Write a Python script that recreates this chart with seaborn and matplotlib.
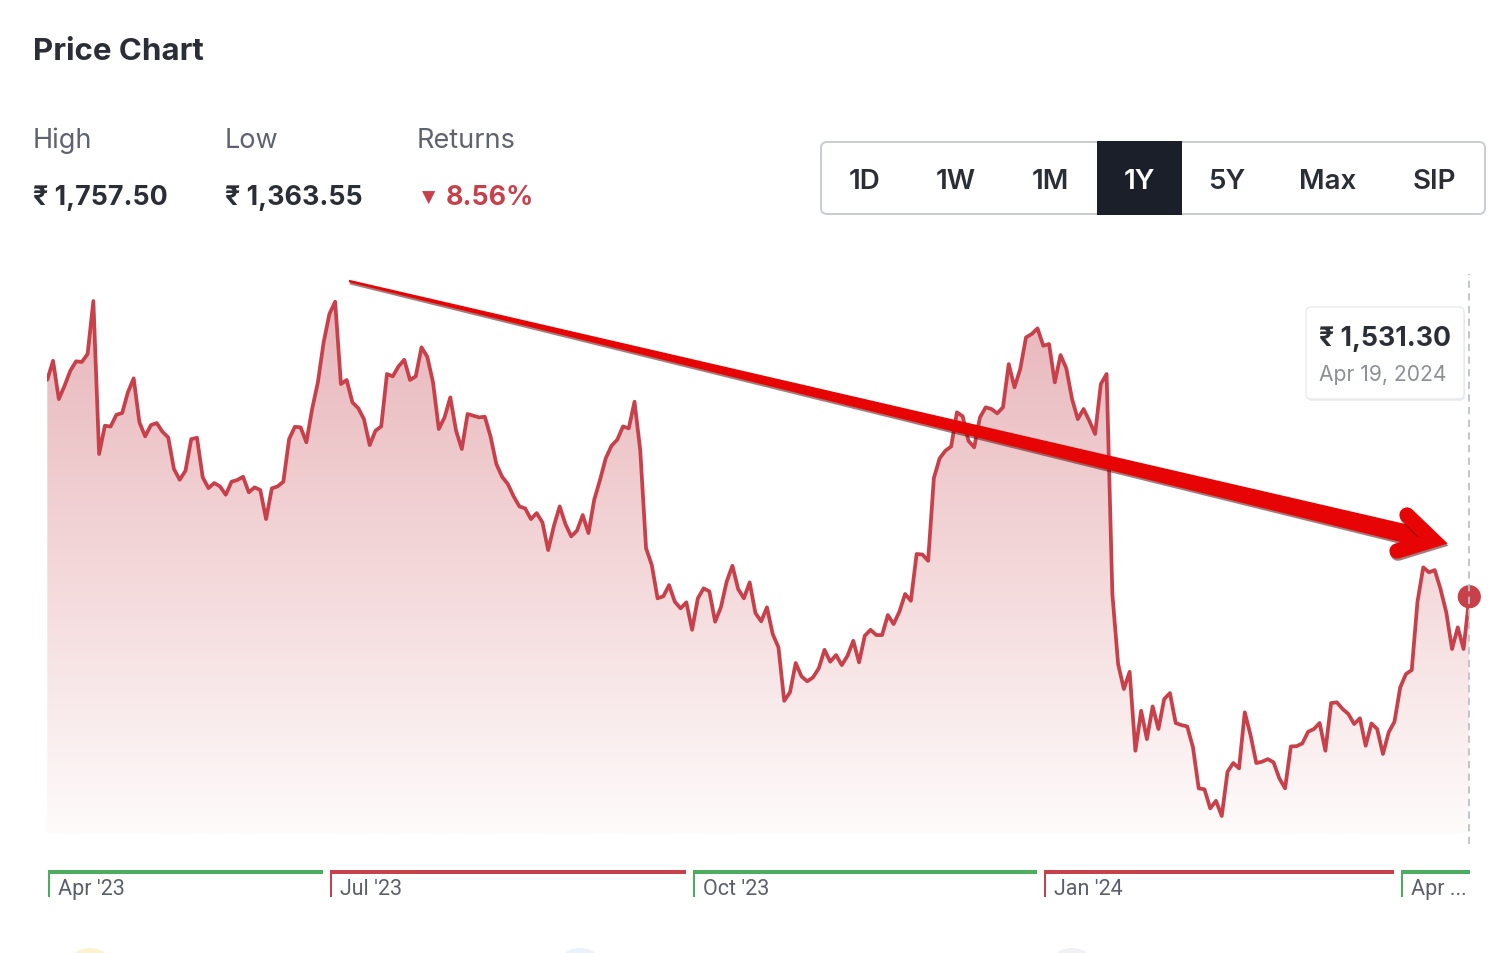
import numpy as np
import pandas as pd
import seaborn as sns
import matplotlib.pyplot as plt
from matplotlib.patches import FancyBboxPatch, Polygon, Rectangle, Circle
from matplotlib.colors import LinearSegmentedColormap

# daily closing prices, Apr 19 2023 .. Apr 19 2024
prices = [
    1697.3, 1711.8, 1682.5, 1692.7, 1704.2, 1711.4, 1710.9, 1717.0, 1757.5, 1640.5,
    1662.1, 1661.5, 1670.5, 1671.8, 1687.7, 1698.4, 1664.7, 1654.0, 1662.6, 1664.2,
    1657.5, 1653.2, 1629.0, 1620.8, 1627.7, 1651.9, 1652.9, 1622.6, 1614.4, 1618.3,
    1615.7, 1609.3, 1619.3, 1620.6, 1623.1, 1611.2, 1615.0, 1612.9, 1590.7, 1614.2,
    1615.7, 1619.3, 1651.9, 1661.3, 1660.9, 1649.4, 1674.9, 1695.3, 1725.9, 1747.6,
    1757.0, 1694.0, 1697.1, 1680.0, 1675.6, 1667.2, 1647.3, 1658.3, 1661.6, 1701.7,
    1699.9, 1707.5, 1712.6, 1697.1, 1699.9, 1722.1, 1714.9, 1695.3, 1659.6, 1668.5,
    1683.8, 1658.3, 1644.3, 1671.1, 1669.8, 1668.5, 1669.0, 1653.7, 1632.8, 1623.1,
    1617.5, 1608.1, 1600.4, 1598.9, 1590.7, 1595.3, 1588.2, 1567.0, 1585.6, 1600.4,
    1586.9, 1577.5, 1581.8, 1593.8, 1580.0, 1605.5, 1620.6, 1637.2, 1646.8, 1651.4,
    1661.6, 1660.1, 1680.5, 1643.0, 1568.5, 1555.5, 1530.1, 1531.6, 1540.2, 1527.5,
    1522.4, 1527.0, 1506.0, 1530.1, 1537.7, 1535.4, 1512.2, 1523.2, 1542.8, 1555.0,
    1537.2, 1530.1, 1542.3, 1518.8, 1512.5, 1523.2, 1502.8, 1492.6, 1451.7, 1458.2,
    1480.6, 1470.4, 1466.6, 1469.6, 1476.5, 1490.7, 1481.6, 1486.7, 1479.0, 1486.2,
    1497.6, 1481.1, 1501.5, 1506.0, 1502.0, 1502.0, 1517.3, 1510.4, 1519.8, 1533.4,
    1528.2, 1564.0, 1563.6, 1558.8, 1622.2, 1637.2, 1643.0, 1646.3, 1672.4, 1669.3,
    1650.6, 1645.6, 1668.5, 1676.2, 1674.9, 1671.6, 1676.2, 1709.3, 1691.5, 1705.5,
    1729.7, 1732.3, 1736.6, 1723.3, 1724.6, 1695.3, 1716.2, 1706.0, 1682.5, 1667.2,
    1674.9, 1665.9, 1655.8, 1694.0, 1701.7, 1533.4, 1479.8, 1460.7, 1473.9, 1413.5,
    1444.1, 1422.4, 1447.4, 1430.1, 1453.0, 1457.6, 1434.7, 1433.1, 1432.1, 1416.1,
    1384.7, 1384.0, 1369.4, 1375.2, 1363.55, 1397.4, 1404.1, 1400.0, 1442.9, 1425.5,
    1404.1, 1405.1, 1407.1, 1404.6, 1392.4, 1384.7, 1416.8, 1417.0, 1419.1, 1428.0,
    1430.1, 1434.7, 1413.5, 1450.0, 1450.5, 1445.4, 1441.6, 1433.9, 1438.3, 1417.3,
    1434.4, 1430.1, 1411.0, 1427.6, 1435.7, 1462.0, 1472.2, 1475.2, 1527.5, 1553.8,
    1550.0, 1551.7, 1537.2, 1519.4, 1491.3, 1507.9, 1491.3, 1531.3,
]

# quarter bands under the chart: label, first trading day index, up/down quarter
quarter_labels = ["Apr '23", "Jul '23", "Oct '23", "Jan '24", "Apr ..."]
quarter_starts = [0, 49, 112, 173, 235]
quarter_up = [True, False, True, False, True]

header_labels = ["High", "Low", "Returns"]
high_value = "₹ 1,757.50"
low_value = "₹ 1,363.55"
returns_value = "8.56%"
range_buttons = ["1D", "1W", "1M", "1Y", "5Y", "Max", "SIP"]
selected_range = "1Y"
tooltip_price = "₹ 1,531.30"
tooltip_date = "Apr 19, 2024"

RED = "#c8404a"
GREEN = "#4cad5f"
DARK = "#2a2f37"
GREY = "#5d6470"

W, H = 1502, 954
sns.set_theme(style="white")
plt.rcParams['font.family'] = ['Inter', 'DejaVu Sans']

fig = plt.figure(figsize=(W / 100, H / 100), dpi=100)


def px_axes(x0, y0, x1, y1):
    """Axes placed by pixel box (y measured from the top)."""
    return fig.add_axes([x0 / W, 1 - y1 / H, (x1 - x0) / W, (y1 - y0) / H])


df = pd.DataFrame({"day": np.arange(len(prices)), "price": prices})
n = len(df)

# price panel
ax = px_axes(47.3, 275, 1469.3, 835)
ymin, ymax = 1349.8, 1778.2
ax.set_xlim(0, n - 1)
ax.set_ylim(ymin, ymax)
ax.axis("off")

# gradient area fill clipped to the price curve
cmap = LinearSegmentedColormap.from_list("fade", ["#fefbfb", "#f3d6d8", "#e6b3b8"])
grad = np.linspace(0, 1, 256).reshape(-1, 1)
im = ax.imshow(grad, extent=[0, n - 1, ymin, ymax], origin="lower",
               aspect="auto", cmap=cmap, zorder=1)
verts = [(0, ymin)] + list(zip(df["day"], df["price"])) + [(n - 1, ymin)]
area = Polygon(verts, closed=True, facecolor="none", edgecolor="none")
ax.add_patch(area)
im.set_clip_path(area)

sns.lineplot(data=df, x="day", y="price", color=RED, linewidth=2.7, ax=ax, zorder=3)
ax.scatter([n - 1], [prices[-1]], s=280, color=RED, clip_on=False, zorder=5,
           edgecolor="none")
ax.axvline(n - 1, ymin=-0.018, ymax=1.0, color="#bcc1c8", lw=1.3,
           ls=(0, (4, 3)), clip_on=False, zorder=6)

# overlay in pixel coordinates for the page furniture
ui = fig.add_axes([0, 0, 1, 1])
ui.set_xlim(0, W)
ui.set_ylim(H, 0)
ui.axis("off")
ui.patch.set_alpha(0)

ui.text(33, 52, "Price Chart", fontsize=22.5, fontweight="bold", color=DARK,
        va="center", ha="left")

for x, lab in zip([33, 225, 417], header_labels):
    ui.text(x, 141, lab, fontsize=19.5, color=GREY, va="center", ha="left")
ui.text(33, 198, high_value, fontsize=19.3, fontweight="bold", color=DARK, va="center")
ui.text(225, 198, low_value, fontsize=19.3, fontweight="bold", color=DARK, va="center")
ui.text(422, 198, "▼", fontsize=12.5, color=RED, va="center",
        family=["DejaVu Sans"])
ui.text(446, 198, returns_value, fontsize=19.3, fontweight="bold", color=RED, va="center")

# range selector
ui.add_patch(FancyBboxPatch((821, 143), 664, 72, boxstyle="round,pad=0,rounding_size=6",
                            fc="white", ec="#c9cdd3", lw=1.4))
btn_x = [865, 956, 1050, 1139, 1227, 1328, 1434]
for x, lab in zip(btn_x, range_buttons):
    sel = lab == selected_range
    if sel:
        ui.add_patch(Rectangle((1097, 142), 85, 74, fc="#1a1f29", ec="none"))
    ui.text(x, 182, lab, fontsize=20, fontweight="semibold",
            color="white" if sel else DARK, ha="center", va="center")

# tooltip
ui.add_patch(FancyBboxPatch((1307, 310), 158, 92, boxstyle="round,pad=0,rounding_size=5",
                            fc="#00000010", ec="none"))
ui.add_patch(FancyBboxPatch((1306, 308), 158, 92, boxstyle="round,pad=0,rounding_size=5",
                            fc="white", ec="#e4e6ea", lw=0.8))
ui.text(1319, 339, tooltip_price, fontsize=19.2, fontweight="bold", color=DARK, va="center")
ui.text(1319, 375, tooltip_date, fontsize=15.2, color="#8b9099", va="center")

# quarter bands
bounds = quarter_starts + [n - 1]
xpx = lambda d: 47.3 + d * (1469.3 - 47.3) / (n - 1)
for i, lab in enumerate(quarter_labels):
    c = GREEN if quarter_up[i] else RED
    x0 = xpx(bounds[i]) + 1
    x1 = xpx(bounds[i + 1]) - (6 if i < len(quarter_labels) - 1 else -1)
    ui.add_patch(Rectangle((x0, 871), x1 - x0, 4, fc=c, ec="none"))
    ui.add_patch(Rectangle((x0, 871), 2, 27, fc=c, ec="none"))
    ui.text(x0 + 10, 890, lab, fontsize=15.5, color="#5a606b", va="center",
            family=["Roboto", "DejaVu Sans"])

# faint icons peeking at the bottom edge
for cx, fc in [(90, "#fdf2cf"), (580, "#e9f1fc"), (1072, "#f0f1f4")]:
    ui.add_patch(Circle((cx, 975), 26, fc=fc, ec="none"))

# big red trend arrow
tail = np.array([349.0, 282.0])
neck = np.array([1428.0, 540.0])
u = (neck - tail) / np.linalg.norm(neck - tail)
nv = np.array([-u[1], u[0]])
shaft = [tail + nv * 1.2, neck + nv * 9.5, neck - nv * 9.5, tail - nv * 1.2]
sh = [p + np.array([0.8, 2.2]) for p in shaft]
ui.add_patch(Polygon(sh, closed=True, fc="#5a1010", ec="none", alpha=0.55))
ui.add_patch(Polygon(shaft, closed=True, fc="#e60404", ec="none"))
head = np.array([[1407, 516], [1433, 541], [1397, 552]], dtype=float)
ui.plot(head[:, 0] + 0.8, head[:, 1] + 2.2, color="#5a1010", alpha=0.55, lw=11,
        solid_capstyle="round", solid_joinstyle="miter")
ui.plot(head[:, 0], head[:, 1], color="#e60404", lw=11,
        solid_capstyle="round", solid_joinstyle="miter")

fig.savefig("out.png", dpi=100)
